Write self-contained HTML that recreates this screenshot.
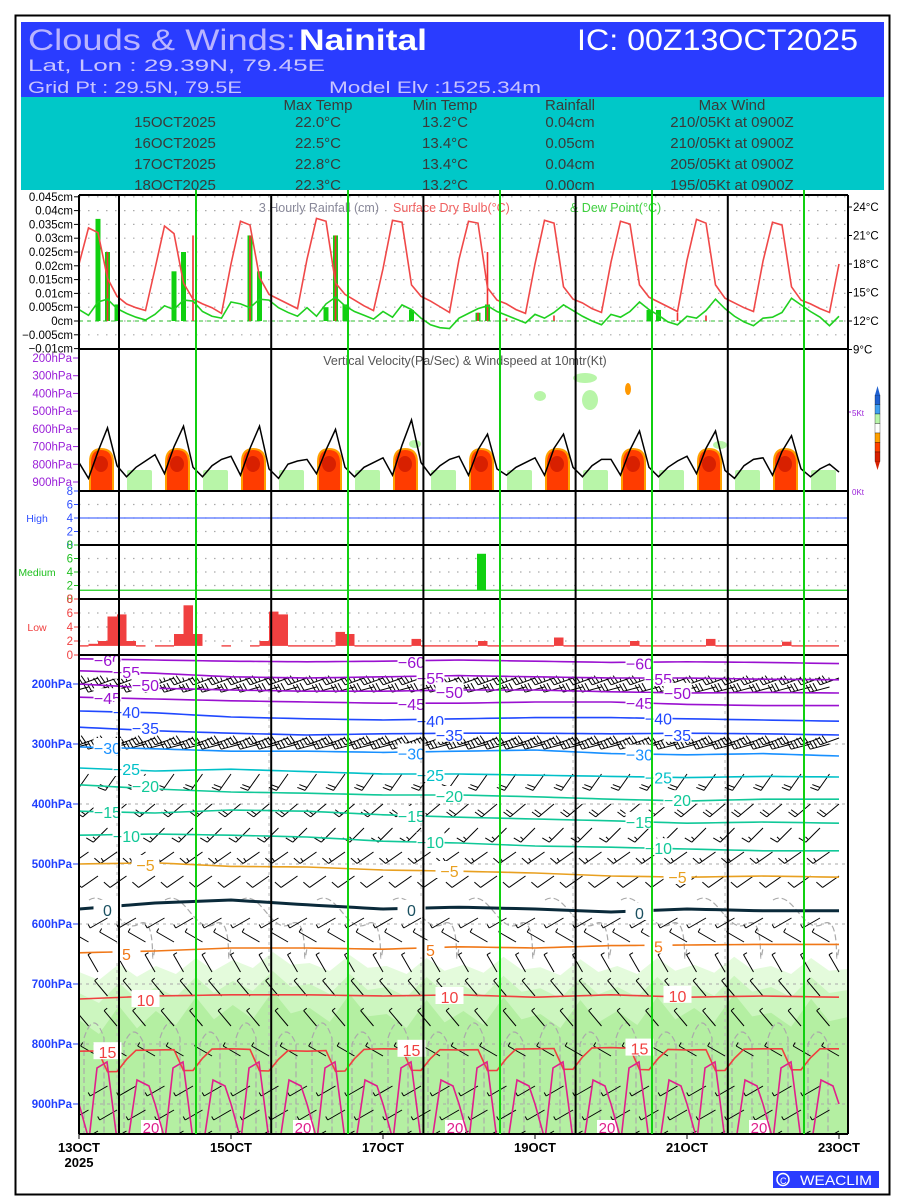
<!DOCTYPE html>
<html><head><meta charset="utf-8">
<style>
html,body{margin:0;padding:0;background:#fff;}
svg{display:block;font-family:"Liberation Sans",sans-serif;}
</style></head>
<body>
<svg id="chart" xmlns="http://www.w3.org/2000/svg" width="900" height="1200" viewBox="0 0 900 1200">
<defs><clipPath id="xsClip"><rect x="79" y="655" width="769" height="479"/></clipPath></defs>
<rect x="0" y="0" width="900" height="1200" fill="#fff"/>
<rect x="15.5" y="15.5" width="874" height="1179" fill="none" stroke="#000" stroke-width="2"/>
<g>
<rect x="21" y="22" width="863" height="75" fill="#2a3cff"/>
<rect x="21" y="97" width="863" height="93" fill="#00c8c8"/>
<text x="28" y="50" font-size="30" fill="#b9b4ff" textLength="268" lengthAdjust="spacingAndGlyphs">Clouds &amp; Winds:</text>
<text x="299" y="50" font-size="30" fill="#fff" font-weight="bold" textLength="128" lengthAdjust="spacingAndGlyphs">Nainital</text>
<text x="577" y="50" font-size="30" fill="#fff" textLength="281" lengthAdjust="spacingAndGlyphs">IC: 00Z13OCT2025</text>
<text x="28" y="71" font-size="17" fill="#c8c4ff" textLength="297" lengthAdjust="spacingAndGlyphs">Lat, Lon : 29.39N, 79.45E</text>
<text x="28" y="93" font-size="17" fill="#c8c4ff" textLength="214" lengthAdjust="spacingAndGlyphs">Grid Pt  : 29.5N, 79.5E</text>
<text x="329" y="93" font-size="17" fill="#c8c4ff" textLength="212" lengthAdjust="spacingAndGlyphs">Model Elv :1525.34m</text>
<g font-size="15" fill="#3a3a3a" text-anchor="middle">
<text x="318" y="110">Max Temp</text><text x="445" y="110">Min Temp</text><text x="570" y="110">Rainfall</text><text x="732" y="110">Max Wind</text>
<text x="175" y="127">15OCT2025</text><text x="318" y="127">22.0°C</text><text x="445" y="127">13.2°C</text><text x="570" y="127">0.04cm</text><text x="732" y="127">210/05Kt at 0900Z</text>
<text x="175" y="148">16OCT2025</text><text x="318" y="148">22.5°C</text><text x="445" y="148">13.4°C</text><text x="570" y="148">0.05cm</text><text x="732" y="148">210/05Kt at 0900Z</text>
<text x="175" y="169">17OCT2025</text><text x="318" y="169">22.8°C</text><text x="445" y="169">13.4°C</text><text x="570" y="169">0.04cm</text><text x="732" y="169">205/05Kt at 0900Z</text>
<text x="175" y="190">18OCT2025</text><text x="318" y="190">22.3°C</text><text x="445" y="190">13.2°C</text><text x="570" y="190">0.00cm</text><text x="732" y="190">195/05Kt at 0900Z</text>
</g>
</g>
<g id="plots"></g>
<g>
<rect x="773" y="1171" width="106" height="17" fill="#2a3cff"/>
<circle cx="783" cy="1179.5" r="6" fill="none" stroke="#fff" stroke-width="1.5"/>
<text x="780" y="1184" font-size="9" fill="#fff">C</text>
<text x="800" y="1185" font-size="14" fill="#fff" textLength="72" lengthAdjust="spacingAndGlyphs">WEACLIM</text>
</g>
</svg>
<script>
// ---------- DATA ----------
const temps = [18,21.8,21.3,16.5,14.6,13.8,13.4,13.1, 17.5,22.0,21.2,16,14.3,13.8,13.4,12.8, 18,22.5,22.1,16.6,14.8,14.3,13.8,13.3, 18.5,22.8,22.5,16,14.8,14.2,13.6,13.1, 17.5,22.6,22.4,15.8,14.6,14.1,13.5,12.9, 18.5,22.5,22.3,15.5,14.2,13.8,13.2,12.8, 18,22.6,22.3,15.6,14.3,13.9,13.3,12.9, 18.2,22.5,22.2,15.8,14.5,14,13.5,13, 18.4,22.7,22.3,15.8,14.4,13.9,13.4,13, 18.3,22.4,22.1,15.6,14.2,13.8,13.3,12.9, 18];
const dewPoints = [13.2,12.6,14,14.3,13.3,12.8,12.4,12.1, 12.7,13.6,13.2,14.2,14.1,13,12.5,12.3, 14,13.8,13.4,14.3,14.2,13.4,12.9,12.5, 13.4,12.5,13.8,14.5,13.6,13,12.6,12.2, 13,12.4,13.7,13.2,12.3,11.6,11.3,11.2, 12.3,12.8,13.3,13.6,13,12.6,12.2,11.8, 12.7,12.3,12.9,13.7,13.1,12.5,12,11.6, 12.7,12.4,13,14,13.2,12.6,11.9,11.6, 12.5,12.3,13.1,14.3,13.3,12.5,11.9,11.5, 12.3,12.4,12.9,14.4,13.7,13.0,12.4,11.5, 12.5];
const rainGreenIdx = [2,3,4,10,11,18,19,26,27,28,35,42,43,60,61];
const rainGreenVal = [0.037,0.025,0.006,0.018,0.025,0.031,0.018,0.005,0.031,0.006,0.004,0.003,0.006,0.004,0.004];
const rainRedIdx = [3,12,18,27,42,43,45,50,63,66];
const rainRedVal = [0.025,0.031,0.031,0.031,0.003,0.025,0.001,0.002,0.003,0.002];
const windSpeed = [1.8,0.8,2.5,4.0,1.6,0.9,1.5,1.9, 2.3,1.1,2.8,4.1,1.5,0.9,1.6,2.0, 2.2,1.0,2.7,4.1,1.4,0.8,1.7,1.9, 2.0,1.1,2.6,3.9,1.5,0.9,1.5,1.8, 2.1,1.0,2.9,4.5,1.8,1.0,1.6,2.0, 2.2,1.0,2.6,3.6,1.4,1.0,1.5,1.8, 2.1,1.0,2.7,3.6,1.5,0.9,1.6,2.0, 2.0,1.0,2.6,3.8,1.5,0.9,1.5,1.9, 2.2,1.1,2.7,3.8,1.3,0.8,1.6,2.0, 2.1,1.0,2.5,3.5,1.4,0.9,1.4,1.7, 1.2];
const vvDays = [0,1,2,3,4,5,6,7,8,9];
const lowCloud = [1.3,1.6,2,5.5,5.8,2,1.3,0, 1.3,1.3,3,7.1,3,0,0,1.3, 0,0,1.3,2,6.2,5.8,1.3,1.3, 1.3,1.3,1.3,3.3,3,1.3,1.3,1.3, 1.3,1.3,1.3,2.3,1.3,1.3,1.3,1.3, 1.3,1.3,2,1.3,1.3,1.3,1.3,1.3, 1.3,1.3,2.5,1.3,1.3,1.3,1.3,1.3, 1.3,1.3,2,1.3,1.3,1.3,1.3,1.3, 1.3,1.3,2.3,1.3,1.3,1.3,1.3,1.3, 1.3,1.3,1.9,1.3,1.3,1.3,1.3,1.3, 1.3];
const midCloudIdx = [42];
const midCloudVal = [6.7];
const isoLevels = [-60,-55,-50,-45,-40,-35,-30,-25,-20,-15,-10,-5,0,5,10,15];
const isoPress = [
 [158,160,162,163,162,160,162,164,163,164,166],
 [178,182,188,190,188,186,188,190,190,192,193],
 [200,207,210,212,212,210,210,213,215,214,215],
 [222,225,228,230,232,232,230,230,234,236,236],
 [245,248,255,258,260,258,256,256,258,260,262],
 [272,278,282,285,283,282,282,283,282,283,285],
 [305,308,312,312,314,312,310,316,318,316,320],
 [340,345,342,346,350,350,352,354,356,354,355],
 [368,375,380,382,385,385,388,392,395,392,392],
 [412,415,410,412,418,422,425,428,432,430,432],
 [452,450,452,455,462,465,470,472,475,478,478],
 [500,498,504,505,510,512,515,520,522,520,522],
 [575,565,560,568,575,572,575,580,575,578,578],
 [648,645,640,640,642,638,640,636,635,634,634],
 [725,720,718,718,720,718,722,718,722,720,722],
 [812,810,808,812,808,810,808,806,810,808,808]];
const rhLightTop = [680,670,660,665,670,668,672,670,668,670,675];
const rhDarkTop = [760,745,735,740,750,745,750,745,740,748,755];
const barbLevels = [190,205,290,300,350,400,440,480,520,590,630,680,720,770,820,870,910,945];
const barbDir = [250,255,250,255,215,230,225,235,235,240,300,330,320,320,300,240,240,240];
const barbSpeed = [35,30,30,30,20,20,15,15,10,5,5,5,5,5,5,5,5,5];
const barbStride = [2,2,2,2,3,3,3,3,3,3,3,3,3,3,3,3,3,3];

// ---------- GEOMETRY ----------
const X0 = 79, X1 = 848, STEP = 9.5;
const xs = i => X0 + i * STEP;
const yRain = v => 321 - v / 0.005 * 13.8;
const yTemp = t => 321 - (t - 12) * 9.5;
const yWs = k => 491 - k * 15.8;
const yVV = p => 358 + (p - 200) * (124 / 700);
const yHigh = v => 545 - v * 6.75;
const yMid = v => 599 - v * 6.75;
const yLow = v => 655 - v * 7;
const yP = p => 684 + (p - 200) * 0.6;
const xDay = d => X0 + d * 76;

const NS = 'http://www.w3.org/2000/svg';
const root = document.getElementById('plots');
function el(tag, attrs, parent) {
  const e = document.createElementNS(NS, tag);
  for (const k in attrs) e.setAttribute(k, attrs[k]);
  (parent || root).appendChild(e);
  return e;
}
function txt(x, y, s, attrs, parent) {
  const t = el('text', Object.assign({x: x, y: y}, attrs), parent);
  t.textContent = s;
  return t;
}
function grp(name, parent) {
  const g = el('g', {}, parent);
  
  
  return g;
}
function dotGrid(g, rowYs) {
  rowYs.forEach(y => {
    el('line', {x1: X0, x2: X1, y1: y, y2: y, stroke: '#aaa', 'stroke-width': 1.2, 'stroke-dasharray': '1.5,7.5'}, g);
  });
}

// ---------- RAIN / TEMP PANEL ----------
(function(){
  const g = grp('rain-temperature-panel');
  const rows = [];
  for (let v = -0.005; v <= 0.0451; v += 0.005) rows.push(yRain(v));
  dotGrid(g, rows);
  el('line', {x1: X0, x2: X1, y1: yRain(0), y2: yRain(0), stroke: '#30c030', 'stroke-dasharray': '4,4'}, g);
  const yt = grp('rain-y-axis');
  [0.045,0.04,0.035,0.03,0.025,0.02,0.015,0.01,0.005,0,-0.005,-0.01].forEach(v => {
    const lab = (Math.round(v*1000)/1000).toString().replace('-', '\u2212') + 'cm';
    txt(73, yRain(v) + 4, lab, {'font-size': 11.5, 'text-anchor': 'end', fill: '#000'}, yt);
    el('line', {x1: 74, x2: 79, y1: yRain(v), y2: yRain(v), stroke: '#000'}, yt);
  });
  const rt = grp('temperature-y-axis');
  [24,21,18,15,12,9].forEach(t => {
    txt(853, yTemp(t) + 4, t + '°C', {'font-size': 11.5, fill: '#000'}, rt);
    el('line', {x1: 848, x2: 852, y1: yTemp(t), y2: yTemp(t), stroke: '#000'}, rt);
  });
  txt(379, 212, '3 Hourly Rainfall (cm)', {'font-size': 12.5, 'text-anchor': 'end', fill: '#889'}, g);
  txt(393, 212, 'Surface Dry Bulb(°C)', {'font-size': 12.5, fill: '#f06060'}, g);
  txt(570, 212, '& Dew Point(°C)', {'font-size': 12.5, fill: '#40d040'}, g);
  rainGreenIdx.forEach((i, k) => {
    const b = el('rect', {x: xs(i) - 2.5, y: yRain(rainGreenVal[k]), width: 5, height: yRain(0) - yRain(rainGreenVal[k]), fill: '#10d010'}, g);
    
    
  });
  rainRedIdx.forEach((i, k) => {
    const b = el('rect', {x: xs(i) - 0.8, y: yRain(rainRedVal[k]), width: 1.6, height: yRain(0) - yRain(rainRedVal[k]), fill: '#f03030'}, g);
    
    
  });
  const tl = el('polyline', {points: temps.map((t,i) => xs(i)+','+yTemp(t)).join(' '), fill: 'none', stroke: '#f04848', 'stroke-width': 1.6}, g);
  
  
  const dl = el('polyline', {points: dewPoints.map((t,i) => xs(i)+','+yTemp(t)).join(' '), fill: 'none', stroke: '#20d020', 'stroke-width': 1.6}, g);
  
  
})();

// ---------- VERTICAL VELOCITY PANEL ----------
(function(){
  const g = grp('vertical-velocity-panel');
  txt(465, 365, 'Vertical Velocity(Pa/Sec) & Windspeed at 10mtr(Kt)', {'font-size': 12.5, 'text-anchor': 'middle', fill: '#555'}, g);
  const ax = grp('vv-y-axis');
  [200,300,400,500,600,700,800,900].forEach(p => {
    txt(72, yVV(p) + 4, p + 'hPa', {'font-size': 11.5, 'text-anchor': 'end', fill: '#9a20d8'}, ax);
    el('line', {x1: 73, x2: 79, y1: yVV(p), y2: yVV(p), stroke: '#9a20d8'}, ax);
  });
  vvDays.forEach(d => {
    const x = xDay(d);
    el('rect', {x: x + 48, y: 470, width: 25, height: 21, rx: 2, fill: '#b8f5a8'}, g);
    el('path', {d: `M${x+10},491 V462 Q${x+10},448 ${x+22},448 Q${x+35},448 ${x+35},462 V491 Z`, fill: '#ffa000'}, g);
    el('path', {d: `M${x+12},491 V463 Q${x+12},450 ${x+22},450 Q${x+33},450 ${x+33},463 V491 Z`, fill: '#ff3c00'}, g);
    el('ellipse', {cx: x + 22, cy: 464, rx: 7, ry: 8, fill: '#d82000'}, g);
  });
  el('ellipse', {cx: 585, cy: 378, rx: 12, ry: 5, fill: '#b8f5a8'}, g);
  el('ellipse', {cx: 590, cy: 400, rx: 8, ry: 10, fill: '#b8f5a8'}, g);
  el('ellipse', {cx: 540, cy: 396, rx: 6, ry: 5, fill: '#b8f5a8'}, g);
  el('ellipse', {cx: 628, cy: 389, rx: 3, ry: 6, fill: '#ff9800'}, g);
  el('ellipse', {cx: 720, cy: 445, rx: 7, ry: 4, fill: '#b8f5a8'}, g);
  el('ellipse', {cx: 415, cy: 444, rx: 6, ry: 4, fill: '#b8f5a8'}, g);
  const wl = el('polyline', {points: windSpeed.map((k,i) => xs(i)+','+yWs(k)).join(' '), fill: 'none', stroke: '#000', 'stroke-width': 1.5}, g);
  
  
  txt(852, yWs(5) + 4, '5Kt', {'font-size': 8, fill: '#9a20d8'}, g);
  txt(852, yWs(0) + 4, '0Kt', {'font-size': 8, fill: '#9a20d8'}, g);
  el('line', {x1: 848, x2: 851, y1: yWs(5), y2: yWs(5), stroke: '#9a20d8'}, g);
  const cb = grp('vv-colorbar');
  const cols = ['#1e60d0','#40a0f0','#b8f5a8','#ffffff','#ffa000','#ff4000','#d82000'];
  cols.forEach((c,i) => el('rect', {x: 875, y: 395 + i*9.5, width: 5, height: 9.5, fill: c, stroke: '#000', 'stroke-width': 0.3}, cb));
  el('path', {d: 'M875,395 L877.5,386 L880,395 Z', fill: '#1e60d0'}, cb);
  el('path', {d: 'M875,461.5 L877.5,470 L880,461.5 Z', fill: '#d82000'}, cb);
})();

// ---------- CLOUD PANELS ----------
(function(){
  const g = grp('cloud-cover-panels');
  [[yHigh,'#3050ff','High'],[yMid,'#20c020','Medium'],[yLow,'#f04040','Low']].forEach(([fy,col,name]) => {
    dotGrid(g, [6,4,2].map(fy));
    [8,6,4,2,0].forEach(v => {
      txt(73, fy(v) + 4, v, {'font-size': 11.5, 'text-anchor': 'end', fill: col}, g);
      el('line', {x1: 74, x2: 79, y1: fy(v), y2: fy(v), stroke: col}, g);
    });
    txt(37, fy(4) + 4, name, {'font-size': 10.5, 'text-anchor': 'middle', fill: col}, g);
  });
  el('line', {x1: X0, x2: X1, y1: yHigh(4), y2: yHigh(4), stroke: '#5070ff', 'stroke-width': 1.2}, g);
  el('line', {x1: X0, x2: X1, y1: yMid(1.3), y2: yMid(1.3), stroke: '#20d020', 'stroke-width': 1.2}, g);
  midCloudIdx.forEach((i,k) => {
    const b = el('rect', {x: xs(i) - 1, y: yMid(midCloudVal[k]), width: 9, height: yMid(1.3) - yMid(midCloudVal[k]), fill: '#10d010'}, g);
    
    
  });
  lowCloud.forEach((v,i) => {
    if (v <= 0 || i >= 80) return;
    const top = yLow(Math.max(v, 1.4));
    const b = el('rect', {x: xs(i), y: top, width: STEP, height: Math.max(yLow(1.3) - top, 1.4), fill: '#f04040'}, g);
    
    
  });
})();

// ---------- BOTTOM CROSS-SECTION ----------
(function(){
  const outer = grp('cross-section-panel');
  const g = el('g', {'clip-path': 'url(#xsClip)'}, outer);
  const xsD = d => X0 + d * 76.9;
  function wavy(arr, amp) {
    let pts = [];
    for (let d = 0; d < arr.length; d++) {
      const x = xsD(d);
      pts.push(x + ',' + yP(arr[d]));
      if (d < arr.length - 1) {
        pts.push((x + 20) + ',' + (yP(arr[d]) + amp));
        pts.push((x + 40) + ',' + (yP(arr[d]) - amp));
        pts.push((x + 58) + ',' + (yP(arr[d]) + amp*0.6));
      }
    }
    return pts;
  }
  const lp = wavy(rhLightTop, 8);
  el('polygon', {points: X0 + ',1134 ' + lp.join(' ') + ' ' + X1 + ',1134', fill: '#e4fbdc'}, g);
  const lp2 = wavy(rhLightTop.map(p => p + 35), 10);
  el('polygon', {points: X0 + ',1134 ' + lp2.join(' ') + ' ' + X1 + ',1134', fill: '#ccf6bf'}, g);
  const dp = wavy(rhDarkTop, 14);
  el('polygon', {points: X0 + ',1134 ' + dp.join(' ') + ' ' + X1 + ',1134', fill: '#b4efa2'}, g);
  [300,400,500,600,700,800,900].forEach(p => el('line', {x1: X0, x2: X1, y1: yP(p), y2: yP(p), stroke: '#aaa', 'stroke-dasharray': '3,4'}, g));
  [0,2,4,6,8].forEach(d => el('line', {x1: xDay(d)+38, x2: xDay(d)+38, y1: 655, y2: 1134, stroke: '#bbb', 'stroke-dasharray': '3,4'}, g));
  for (let d = 0; d < 10; d++) {
    const x = xDay(d);
    el('path', {d: `M${x+10},${yP(560)} C${x+30},${yP(540)} ${x+40},${yP(620)} ${x+60},${yP(600)} S${x+70},${yP(700)} ${x+76},${yP(640)}`, fill: 'none', stroke: '#aaa', 'stroke-dasharray': '6,3', 'stroke-width': 1.2}, g);
    el('path', {d: `M${x+5},${yP(1000)} L${x+5},${yP(790)} Q${x+15},${yP(740)} ${x+25},${yP(790)} L${x+25},${yP(1000)}`, fill: 'none', stroke: '#aaa', 'stroke-dasharray': '6,3', 'stroke-width': 1.2}, g);
    el('path', {d: `M${x+45},${yP(1000)} L${x+45},${yP(800)} Q${x+55},${yP(760)} ${x+65},${yP(800)} L${x+65},${yP(1000)}`, fill: 'none', stroke: '#aaa', 'stroke-dasharray': '6,3', 'stroke-width': 1.2}, g);
  }
  // wind barbs
  const bg = grp('wind-barbs', g);
  barbLevels.forEach((p, r) => {
    const dir = barbDir[r] * Math.PI / 180, sp = barbSpeed[r], st = barbStride[r];
    for (let i = (r % st); i < 81; i += st) {
      const x = xs(i), y = yP(p);
      const L = 20;
      const dx = Math.sin(dir) * L, dy = -Math.cos(dir) * L;
      const ex = x + dx, ey = y + dy;
      el('line', {x1: x, y1: y, x2: ex, y2: ey, stroke: '#000', 'stroke-width': 1}, bg);
      const nf = Math.floor(sp / 10), half = (sp % 10) >= 5;
      const ux = dx / L, uy = dy / L;
      const px = -uy, py = ux;
      for (let f = 0; f < nf; f++) {
        const bx = ex - ux * f * 3.5, by = ey - uy * f * 3.5;
        el('line', {x1: bx, y1: by, x2: bx + px * 8 + ux * 2, y2: by + py * 8 + uy * 2, stroke: '#000'}, bg);
      }
      if (half) {
        const bx = ex - ux * nf * 3.5, by = ey - uy * nf * 3.5;
        el('line', {x1: bx, y1: by, x2: bx + px * 4, y2: by + py * 4, stroke: '#000'}, bg);
      }
    }
  });
  // isotherms
  const colFor = t => t <= -45 ? '#9a10d0' : t <= -35 ? '#2048ff' : t === -30 ? '#1890ff' : t === -25 ? '#00c0c8' : t <= -10 ? '#10c898' : t === -5 ? '#e8a020' : t === 0 ? '#0a2a3a' : t === 5 ? '#f07818' : '#f04040';
  isoLevels.forEach((lev, k) => {
    const arr = isoPress[k];
    const pts = [];
    for (let i = 0; i <= 80; i++) {
      const f = i / 8, d0 = Math.min(Math.floor(f), 9), fr = f - d0;
      let p = arr[d0] * (1 - fr) + arr[d0 + 1] * fr;
      if (lev === 15) p += (i % 8 === 3 || i % 8 === 4) ? 35 : (i % 8 === 5 ? 15 : 0);
      pts.push(xs(i) + ',' + yP(p));
    }
    const line = el('polyline', {points: pts.join(' '), fill: 'none', stroke: colFor(lev), 'stroke-width': lev === 0 ? 3 : 1.6}, g);
    
    
    [0, 4, 7].forEach(d => {
      const x = xs(d * 8 + (k % 3) * 2 + 3);
      const y = yP(arr[d]);
      el('rect', {x: x - 14, y: y - 9, width: 28, height: 17, fill: '#fff'}, g);
      txt(x, y + 7, (lev < 0 ? '\u2212' : '') + Math.abs(lev), {'font-size': 16, 'text-anchor': 'middle', fill: lev === 0 ? '#1a5060' : colFor(lev)}, g);
    });
  });
  for (let d = 0; d < 10; d++) {
    const x = xDay(d);
    el('polyline', {points: `${x},${yP(900)} ${x+10},${yP(960)} ${x+18},${yP(840)} ${x+28},${yP(830)} ${x+38},${yP(960)} ${x+50},${yP(950)} ${x+58},${yP(860)} ${x+70},${yP(870)} ${x+76},${yP(900)}`, fill: 'none', stroke: '#e0208c', 'stroke-width': 1.6}, g);
    if (d % 2 === 0) { el('rect', {x: x+62, y: 1120, width: 20, height: 14, fill: '#fff'}, g); txt(x+72, 1133, '20', {'font-size': 15, 'text-anchor': 'middle', fill: '#e0208c'}, g); }
  }
  const ax = grp('pressure-axis', outer);
  [200,300,400,500,600,700,800,900].forEach(p => {
    txt(72, yP(p) + 4, p + 'hPa', {'font-size': 11.5, 'text-anchor': 'end', fill: '#2040ff', 'font-weight': 'bold'}, ax);
    el('line', {x1: 73, x2: 79, y1: yP(p), y2: yP(p), stroke: '#2040ff'}, ax);
  });
  const xa = grp('date-axis', outer);
  ['13OCT','15OCT','17OCT','19OCT','21OCT','23OCT'].forEach((s, k) => {
    const x = X0 + k * 152;
    txt(x, 1152, s, {'font-size': 13, 'text-anchor': 'middle', fill: '#000', 'font-weight': 'bold'}, xa);
    el('line', {x1: x, x2: x, y1: 1134, y2: 1139, stroke: '#000'}, xa);
  });
  txt(79, 1167, '2025', {'font-size': 13, 'text-anchor': 'middle', fill: '#000', 'font-weight': 'bold'}, xa);
})();

// ---------- FRAMES & DAY LINES ----------
(function(){
  const g = grp('panel-frames');
  [195,349,491,545,599,655].forEach(y => el('line', {x1: X0, x2: X1, y1: y, y2: y, stroke: '#000', 'stroke-width': 2}, g));
  el('line', {x1: X0, x2: X1, y1: 1134, y2: 1134, stroke: '#000', 'stroke-width': 2}, g);
  el('line', {x1: X0, x2: X0, y1: 195, y2: 1134, stroke: '#000', 'stroke-width': 2}, g);
  el('line', {x1: X1, x2: X1, y1: 195, y2: 1134, stroke: '#000', 'stroke-width': 2}, g);
  [0,1,2,3,4].forEach(k => {
    const xb = 119 + k * 152.2, xg = 196 + k * 152;
    const b = el('line', {x1: xb, x2: xb, y1: 195, y2: 1134, stroke: '#000', 'stroke-width': 2}, g);
    
    
    const gl = el('line', {x1: xg, x2: xg, y1: 190, y2: 1134, stroke: '#10d010', 'stroke-width': 2}, g);
    
    
  });
})();
</script>
</body></html>
